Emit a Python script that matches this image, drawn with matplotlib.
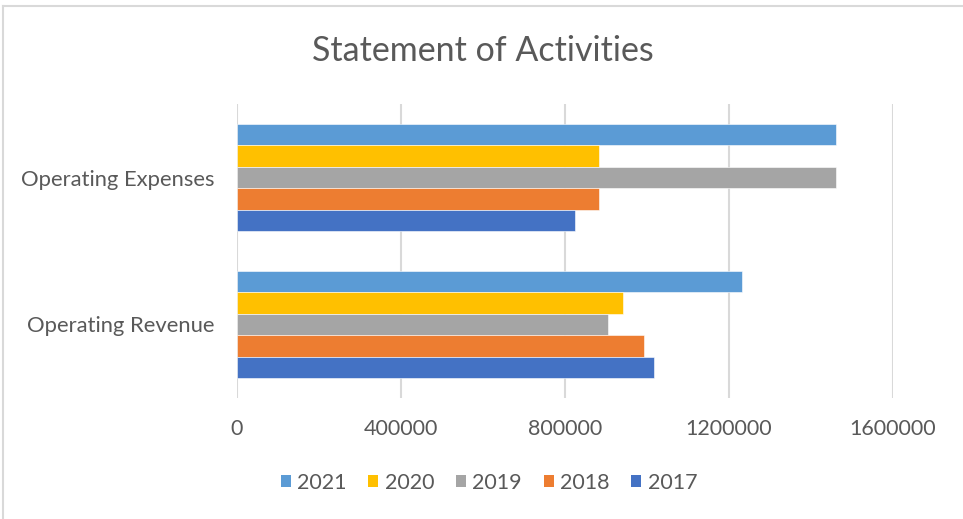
import matplotlib
matplotlib.use("Agg")
import matplotlib.pyplot as plt
from matplotlib.lines import Line2D
from matplotlib.patches import Patch
import numpy as np

categories = ["Operating Revenue", "Operating Expenses"]
years = ["2021", "2020", "2019", "2018", "2017"]
values = {
    "2021": [1232000, 1462000],
    "2020": [942000, 884000],
    "2019": [906000, 1462000],
    "2018": [993000, 884000],
    "2017": [1018000, 824000],
}
colors = {
    "2021": "#5B9BD5",
    "2020": "#FFC000",
    "2019": "#A5A5A5",
    "2018": "#ED7D31",
    "2017": "#4472C4",
}
xticks = [0, 400000, 800000, 1200000, 1600000]

plt.rcParams['font.family'] = ['Lato', 'DejaVu Sans']
fig = plt.figure(figsize=(9.63, 5.19), dpi=100)
ax = fig.add_axes([237/963, 1-398/519, 656/963, 294/519])

h = 0.1464
y = np.arange(len(categories))
offsets = {yr: (2 - i) * h for i, yr in enumerate(years)}
for yr in years:
    ax.barh(y + offsets[yr], values[yr], height=h, color=colors[yr],
            edgecolor="white", linewidth=0.4, zorder=3)

ax.set_xlim(0, 1600000)
ax.set_ylim(-0.5, 1.5)
ax.set_xticks(xticks)
ax.set_xticklabels([str(v) for v in xticks])
ax.set_yticks(y)
ax.set_yticklabels(categories)
ax.tick_params(axis='both', length=0, labelsize=15.5, colors="#595959")
ax.tick_params(axis='y', labelsize=15.8, pad=16)
ax.tick_params(axis='x', pad=15)
ax.grid(axis='x', color="#D9D9D9", linewidth=1.5, zorder=0)
for s in ax.spines.values():
    s.set_visible(False)

fig.text(483/963, 1-51/519, "Statement of Activities", ha="center", va="center",
         fontsize=24.5, color="#595959")

handles = [Patch(facecolor=colors[yr], edgecolor="none") for yr in years]
fig.legend(handles, years, loc="center", bbox_to_anchor=(489/963, 1-483/519),
           ncol=5, frameon=False, fontsize=15.5, labelcolor="#595959",
           handlelength=0.47, handleheight=0.5, handletextpad=0.3,
           columnspacing=1.0, borderpad=0, borderaxespad=0)

fig.add_artist(Line2D([3/963, 3/963], [0, 1-6/519], transform=fig.transFigure,
                      color="#D9D9D9", linewidth=1.5))
fig.add_artist(Line2D([3/963, 1], [1-6/519, 1-6/519], transform=fig.transFigure,
                      color="#D9D9D9", linewidth=1.5))

fig.savefig("out.png", dpi=100)
